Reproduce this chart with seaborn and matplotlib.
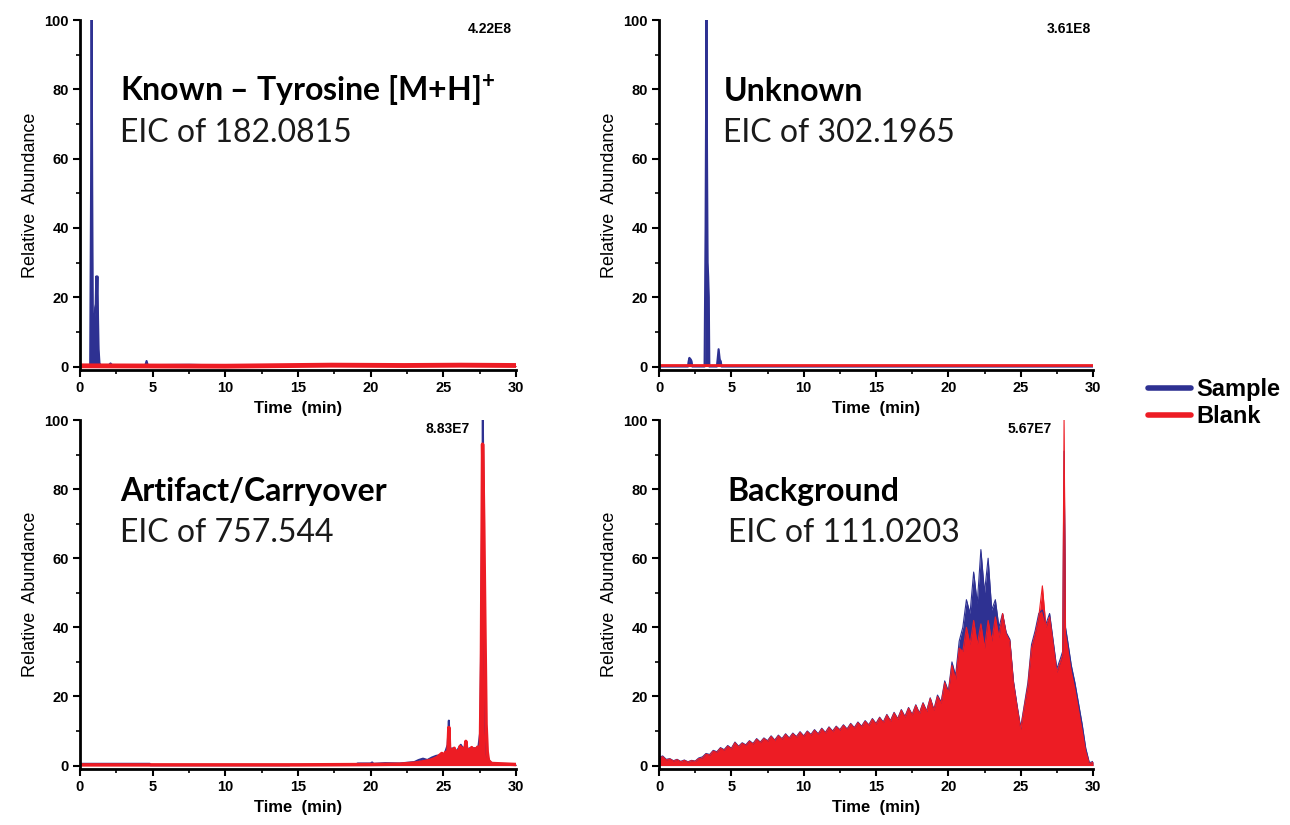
import matplotlib
matplotlib.use("Agg")
import matplotlib.pyplot as plt
from matplotlib.lines import Line2D
from matplotlib.ticker import MultipleLocator
import pandas as pd
import seaborn as sns

# ── Data (relative abundance in %) ───────────────────────────────────────────

# Known – Tyrosine [M+H]+ , EIC 182.0815
TYR_SAMPLE_T = [0.0, 0.70, 0.76, 0.80, 0.84, 0.88, 0.92, 0.96, 1.00, 1.04, 1.08,
                1.12, 1.16, 1.20, 1.24, 1.28, 1.34, 1.40, 2.00, 2.10, 2.20, 4.50,
                4.58, 4.66, 7.50, 10.0, 15.0, 17.3, 22.3, 26.2, 27.0, 30.0]
TYR_SAMPLE_V = [0.2, 0.2, 50, 100, 52, 15, 13, 15, 12, 17, 18,
                26, 20, 26, 14, 5, 1.0, 0.4, 0.4, 0.9, 0.4, 0.4,
                1.6, 0.4, 0.5, 0.3, 0.2, 0.2, 0.2, 0.2, 0.3, 0.2]
TYR_BLANK_T = [0.0, 10.0, 17.3, 22.3, 26.2, 30.0]
TYR_BLANK_V = [0.2, 0.1, 0.4, 0.3, 0.4, 0.3]

# Unknown, EIC 302.1965
UNK_SAMPLE_T = [0.0, 2.00, 2.05, 2.10, 2.20, 2.25, 2.30, 3.15, 3.22, 3.28, 3.32,
                3.36, 3.40, 3.44, 3.48, 4.00, 4.05, 4.12, 4.20, 4.27, 4.32, 30.0]
UNK_SAMPLE_V = [0.0, 0.0, 1.5, 2.5, 2.0, 1.5, 0.0, 0.0, 40, 100, 60,
                30, 26, 20, 0.0, 0.0, 2.0, 5.0, 2.0, 1.5, 0.0, 0.0]
UNK_BLANK_T = [0.0, 30.0]
UNK_BLANK_V = [0.3, 0.3]

# Artifact/Carryover, EIC 757.544
ART_SAMPLE_T = [0.0, 4.80, 4.85, 14.4, 14.5, 19.0, 19.1, 20.0, 20.1, 20.2, 21.0,
                22.0, 23.0, 23.3, 23.6, 23.9, 24.2, 24.5, 24.8, 25.1, 25.30,
                25.38, 25.45, 25.6, 25.9, 26.2, 26.5, 26.8, 27.1, 27.4, 27.55,
                27.65, 27.72, 27.80, 27.90, 28.0, 28.2, 28.5, 30.0]
ART_SAMPLE_V = [0.5, 0.5, 0.1, 0.1, 0.2, 0.2, 0.6, 0.6, 0.9, 0.5, 0.7,
                0.6, 1.0, 1.6, 2.0, 1.6, 2.3, 2.8, 3.0, 3.5, 6.0,
                13.0, 4.0, 5.0, 4.0, 6.0, 4.0, 5.0, 5.0, 5.0, 10.0,
                60, 100, 55, 12, 3.0, 1.0, 0.5, 0.4]
ART_BLANK_T = [0.0, 15.0, 20.0, 22.0, 23.0, 23.5, 24.0, 24.3, 24.6, 24.9, 25.0,
               25.15, 25.30, 25.38, 25.45, 25.55, 25.65, 25.75, 25.85, 25.95,
               26.05, 26.15, 26.25, 26.35, 26.45, 26.55, 26.65, 26.75, 26.85,
               26.95, 27.05, 27.15, 27.25, 27.35, 27.45, 27.55, 27.62, 27.70,
               27.78, 27.86, 27.94, 28.02, 28.10, 28.30, 30.0]
ART_BLANK_V = [0.2, 0.2, 0.3, 0.4, 0.7, 1.0, 1.4, 1.8, 2.4, 3.5, 2.0,
               3.8, 2.5, 11.0, 2.8, 4.5, 2.2, 5.0, 3.0, 4.2,
               2.6, 5.5, 3.2, 5.0, 2.8, 7.0, 3.0, 4.6, 3.5,
               5.2, 3.8, 4.8, 3.6, 5.3, 4.0, 6.0, 30.0, 93.0,
               70.0, 40.0, 12.0, 4.0, 1.5, 0.6, 0.3]

# Background, EIC 111.0203 (same time grid for both traces)
BKG_T = [0.00, 0.25, 0.50, 0.75, 1.00, 1.25, 1.50, 1.75, 2.00, 2.25, 2.50, 2.75,
         3.00, 3.25, 3.50, 3.75, 4.00, 4.25, 4.50, 4.75, 5.00, 5.25, 5.50, 5.75,
         6.00, 6.25, 6.50, 6.75, 7.00, 7.25, 7.50, 7.75, 8.00, 8.25, 8.50, 8.75,
         9.00, 9.25, 9.50, 9.75, 10.00, 10.25, 10.50, 10.75, 11.00, 11.25, 11.50, 11.75,
         12.00, 12.25, 12.50, 12.75, 13.00, 13.25, 13.50, 13.75, 14.00, 14.25, 14.50, 14.75,
         15.00, 15.25, 15.50, 15.75, 16.00, 16.25, 16.50, 16.75, 17.00, 17.25, 17.50, 17.75,
         18.00, 18.25, 18.50, 18.75, 19.00, 19.25, 19.50, 19.75, 20.00, 20.25, 20.50, 20.75,
         21.00, 21.25, 21.50, 21.75, 22.00, 22.25, 22.50, 22.75, 23.00, 23.25, 23.50, 23.75,
         24.00, 24.25, 24.50, 24.75, 25.00, 25.25, 25.50, 25.75, 26.00, 26.25, 26.50, 26.75,
         27.00, 27.25, 27.50, 27.75, 27.90, 28.00, 28.10, 28.25, 28.50, 28.75, 29.00, 29.25,
         29.50, 29.75, 30.00]
BKG_BLANK_V = [2.0, 2.6, 1.6, 1.9, 1.3, 1.7, 1.1, 1.5, 1.0, 1.4, 1.2, 2.0,
               2.2, 3.3, 3.0, 4.2, 3.8, 5.0, 4.4, 5.6, 4.8, 6.6, 5.4, 6.4,
               5.8, 7.0, 6.2, 7.6, 6.6, 7.8, 7.0, 8.4, 7.2, 8.6, 7.6, 9.0,
               7.8, 9.2, 8.2, 9.6, 8.4, 9.8, 8.8, 10.2, 9.0, 10.6, 9.4, 11.0,
               9.8, 11.2, 10.2, 11.6, 10.4, 12.0, 10.8, 12.4, 11.2, 12.8, 11.6, 13.4,
               12.0, 13.8, 12.4, 14.6, 12.8, 15.2, 13.4, 16.0, 14.0, 16.6, 14.6, 17.4,
               15.0, 18.0, 15.6, 19.4, 16.0, 20.0, 18.0, 24.0, 21.0, 29.0, 25.0, 34.0,
               33.0, 40.0, 35.0, 42.0, 35.0, 41.0, 34.0, 42.0, 36.0, 43.0, 37.0, 44.0,
               38.0, 36.0, 24.0, 17.0, 10.5, 17.0, 23.0, 34.0, 38.0, 43.0, 52.0, 40.0,
               43.0, 35.0, 27.0, 30.0, 32.0, 100.0, 38.0, 34.0, 27.0, 22.0, 16.0, 10.0,
               4.0, 0.5, 1.0]
BKG_SAMPLE_V = [2.3, 2.8, 1.8, 2.0, 1.4, 1.8, 1.2, 1.6, 1.1, 1.5, 1.3, 2.2,
                2.5, 3.5, 3.2, 4.4, 4.0, 5.2, 4.6, 5.8, 5.0, 6.8, 5.6, 6.6,
                6.0, 7.2, 6.4, 7.8, 6.8, 8.0, 7.2, 8.6, 7.4, 8.8, 7.8, 9.2,
                8.0, 9.4, 8.4, 9.8, 8.6, 10.0, 9.0, 10.4, 9.2, 10.8, 9.6, 11.2,
                10.0, 11.4, 10.4, 11.8, 10.6, 12.2, 11.0, 12.6, 11.4, 13.0, 11.8, 13.6,
                12.2, 14.0, 12.6, 14.8, 13.0, 15.4, 13.6, 16.2, 14.2, 16.8, 14.8, 17.6,
                15.2, 18.2, 15.8, 19.6, 16.2, 20.4, 18.4, 24.5, 21.5, 30.0, 26.0, 36.0,
                40.0, 48.0, 44.0, 56.0, 47.0, 62.5, 50.0, 60.0, 45.0, 48.0, 40.0, 44.0,
                38.5, 36.5, 24.5, 17.5, 11.0, 17.5, 24.0, 35.0, 39.0, 44.0, 45.0, 41.0,
                44.0, 36.0, 28.0, 31.0, 33.0, 91.0, 40.0, 36.0, 29.0, 24.0, 18.0, 12.0,
                5.0, 0.8, 1.2]

SERIES = ["Sample", "Blank"]
SCALES = ["4.22E8", "3.61E8", "8.83E7", "5.67E7"]
TITLES = ["Known \u2013 Tyrosine [M+H]$^{+}$", "Unknown", "Artifact/Carryover", "Background"]
SUBTITLES = ["EIC of 182.0815", "EIC of 302.1965", "EIC of 757.544", "EIC of 111.0203"]

BLUE = "#2e3192"
RED = "#ed1c24"


def make_frame(t_s, v_s, t_b, v_b):
    """Long-form frame with both traces."""
    a = pd.DataFrame({"time": t_s, "abund": v_s, "trace": SERIES[0]})
    b = pd.DataFrame({"time": t_b, "abund": v_b, "trace": SERIES[1]})
    return pd.concat([a, b], ignore_index=True)


def draw_panel(ax, df, lw_sample, lw_blank):
    for name, color, lw in [(SERIES[0], BLUE, lw_sample), (SERIES[1], RED, lw_blank)]:
        sub = df[df["trace"] == name]
        ax.fill_between(sub["time"], 0, sub["abund"], color=color, lw=0)
        sns.lineplot(data=sub, x="time", y="abund", color=color, lw=lw,
                     estimator=None, sort=False, ax=ax, legend=False)


def style_axes(ax):
    ax.set_xlim(0, 30)
    ax.set_ylim(-1, 100)
    ax.xaxis.set_major_locator(MultipleLocator(5))
    ax.xaxis.set_minor_locator(MultipleLocator(2.5))
    ax.yaxis.set_major_locator(MultipleLocator(20))
    ax.yaxis.set_minor_locator(MultipleLocator(10))
    ax.tick_params(which="major", direction="out", length=5, width=1.5,
                   labelsize=10.5, pad=3, color="black", labelcolor="black")
    ax.tick_params(which="minor", direction="out", length=3, width=1.2, color="black")
    for lab in ax.get_xticklabels() + ax.get_yticklabels():
        lab.set_fontweight("bold")
    sns.despine(ax=ax)
    for side in ["left", "bottom"]:
        ax.spines[side].set_linewidth(2)
        ax.spines[side].set_color("black")
    ax.set_xlabel("Time  (min)", fontsize=12, fontweight="bold", labelpad=4)
    ax.set_ylabel("Relative  Abundance", fontsize=13, labelpad=4)


# ── Figure ────────────────────────────────────────────────────────────────────

sns.set_style("ticks")
plt.rcParams["font.family"] = ["Liberation Sans", "DejaVu Sans"]
plt.rcParams["text.color"] = "black"
plt.rcParams["axes.labelcolor"] = "black"
plt.rcParams["mathtext.fontset"] = "custom"
plt.rcParams["mathtext.rm"] = "Lato:bold"
plt.rcParams["mathtext.bf"] = "Lato:bold"

fig = plt.figure(figsize=(12.9, 8.25), dpi=100)
ax_pos = [
    [80 / 1290, 1 - 370 / 825, 436 / 1290, 350 / 825],
    [659 / 1290, 1 - 370 / 825, 434 / 1290, 350 / 825],
    [80 / 1290, 1 - 769 / 825, 436 / 1290, 349 / 825],
    [659 / 1290, 1 - 769 / 825, 434 / 1290, 349 / 825],
]
axes = [fig.add_axes(p) for p in ax_pos]

frames = [
    make_frame(TYR_SAMPLE_T, TYR_SAMPLE_V, TYR_BLANK_T, TYR_BLANK_V),
    make_frame(UNK_SAMPLE_T, UNK_SAMPLE_V, UNK_BLANK_T, UNK_BLANK_V),
    make_frame(ART_SAMPLE_T, ART_SAMPLE_V, ART_BLANK_T, ART_BLANK_V),
    make_frame(BKG_T, BKG_SAMPLE_V, BKG_T, BKG_BLANK_V),
]
line_widths = [(1.5, 3.5), (1.5, 2.0), (1.5, 2.5), (0.8, 0.8)]
title_x = [2.75, 4.45, 2.75, 4.75]
scale_x = [28.2, 28.3, 25.3, 25.6]

for i, ax in enumerate(axes):
    draw_panel(ax, frames[i], *line_widths[i])
    style_axes(ax)
    ax.text(title_x[i], 76.5, TITLES[i], fontsize=23, fontweight="bold",
            family=["Lato", "DejaVu Sans"], va="baseline", color="black")
    ax.text(title_x[i], 64.8, SUBTITLES[i], fontsize=23,
            family=["Lato", "DejaVu Sans"], va="baseline", color="#1a1a1a")
    ax.text(scale_x[i], 97.5, SCALES[i], fontsize=10, fontweight="bold",
            ha="center", va="center", color="black")

handles = [Line2D([], [], color=BLUE, lw=4), Line2D([], [], color=RED, lw=4)]
leg = fig.legend(handles, SERIES, loc="center left",
                 bbox_to_anchor=(1127 / 1290, 1 - 403 / 825), frameon=False,
                 handlelength=1.8, handletextpad=0.25, labelspacing=0.15,
                 prop={"size": 17, "weight": "bold"})

fig.savefig("out.png", dpi=100)
